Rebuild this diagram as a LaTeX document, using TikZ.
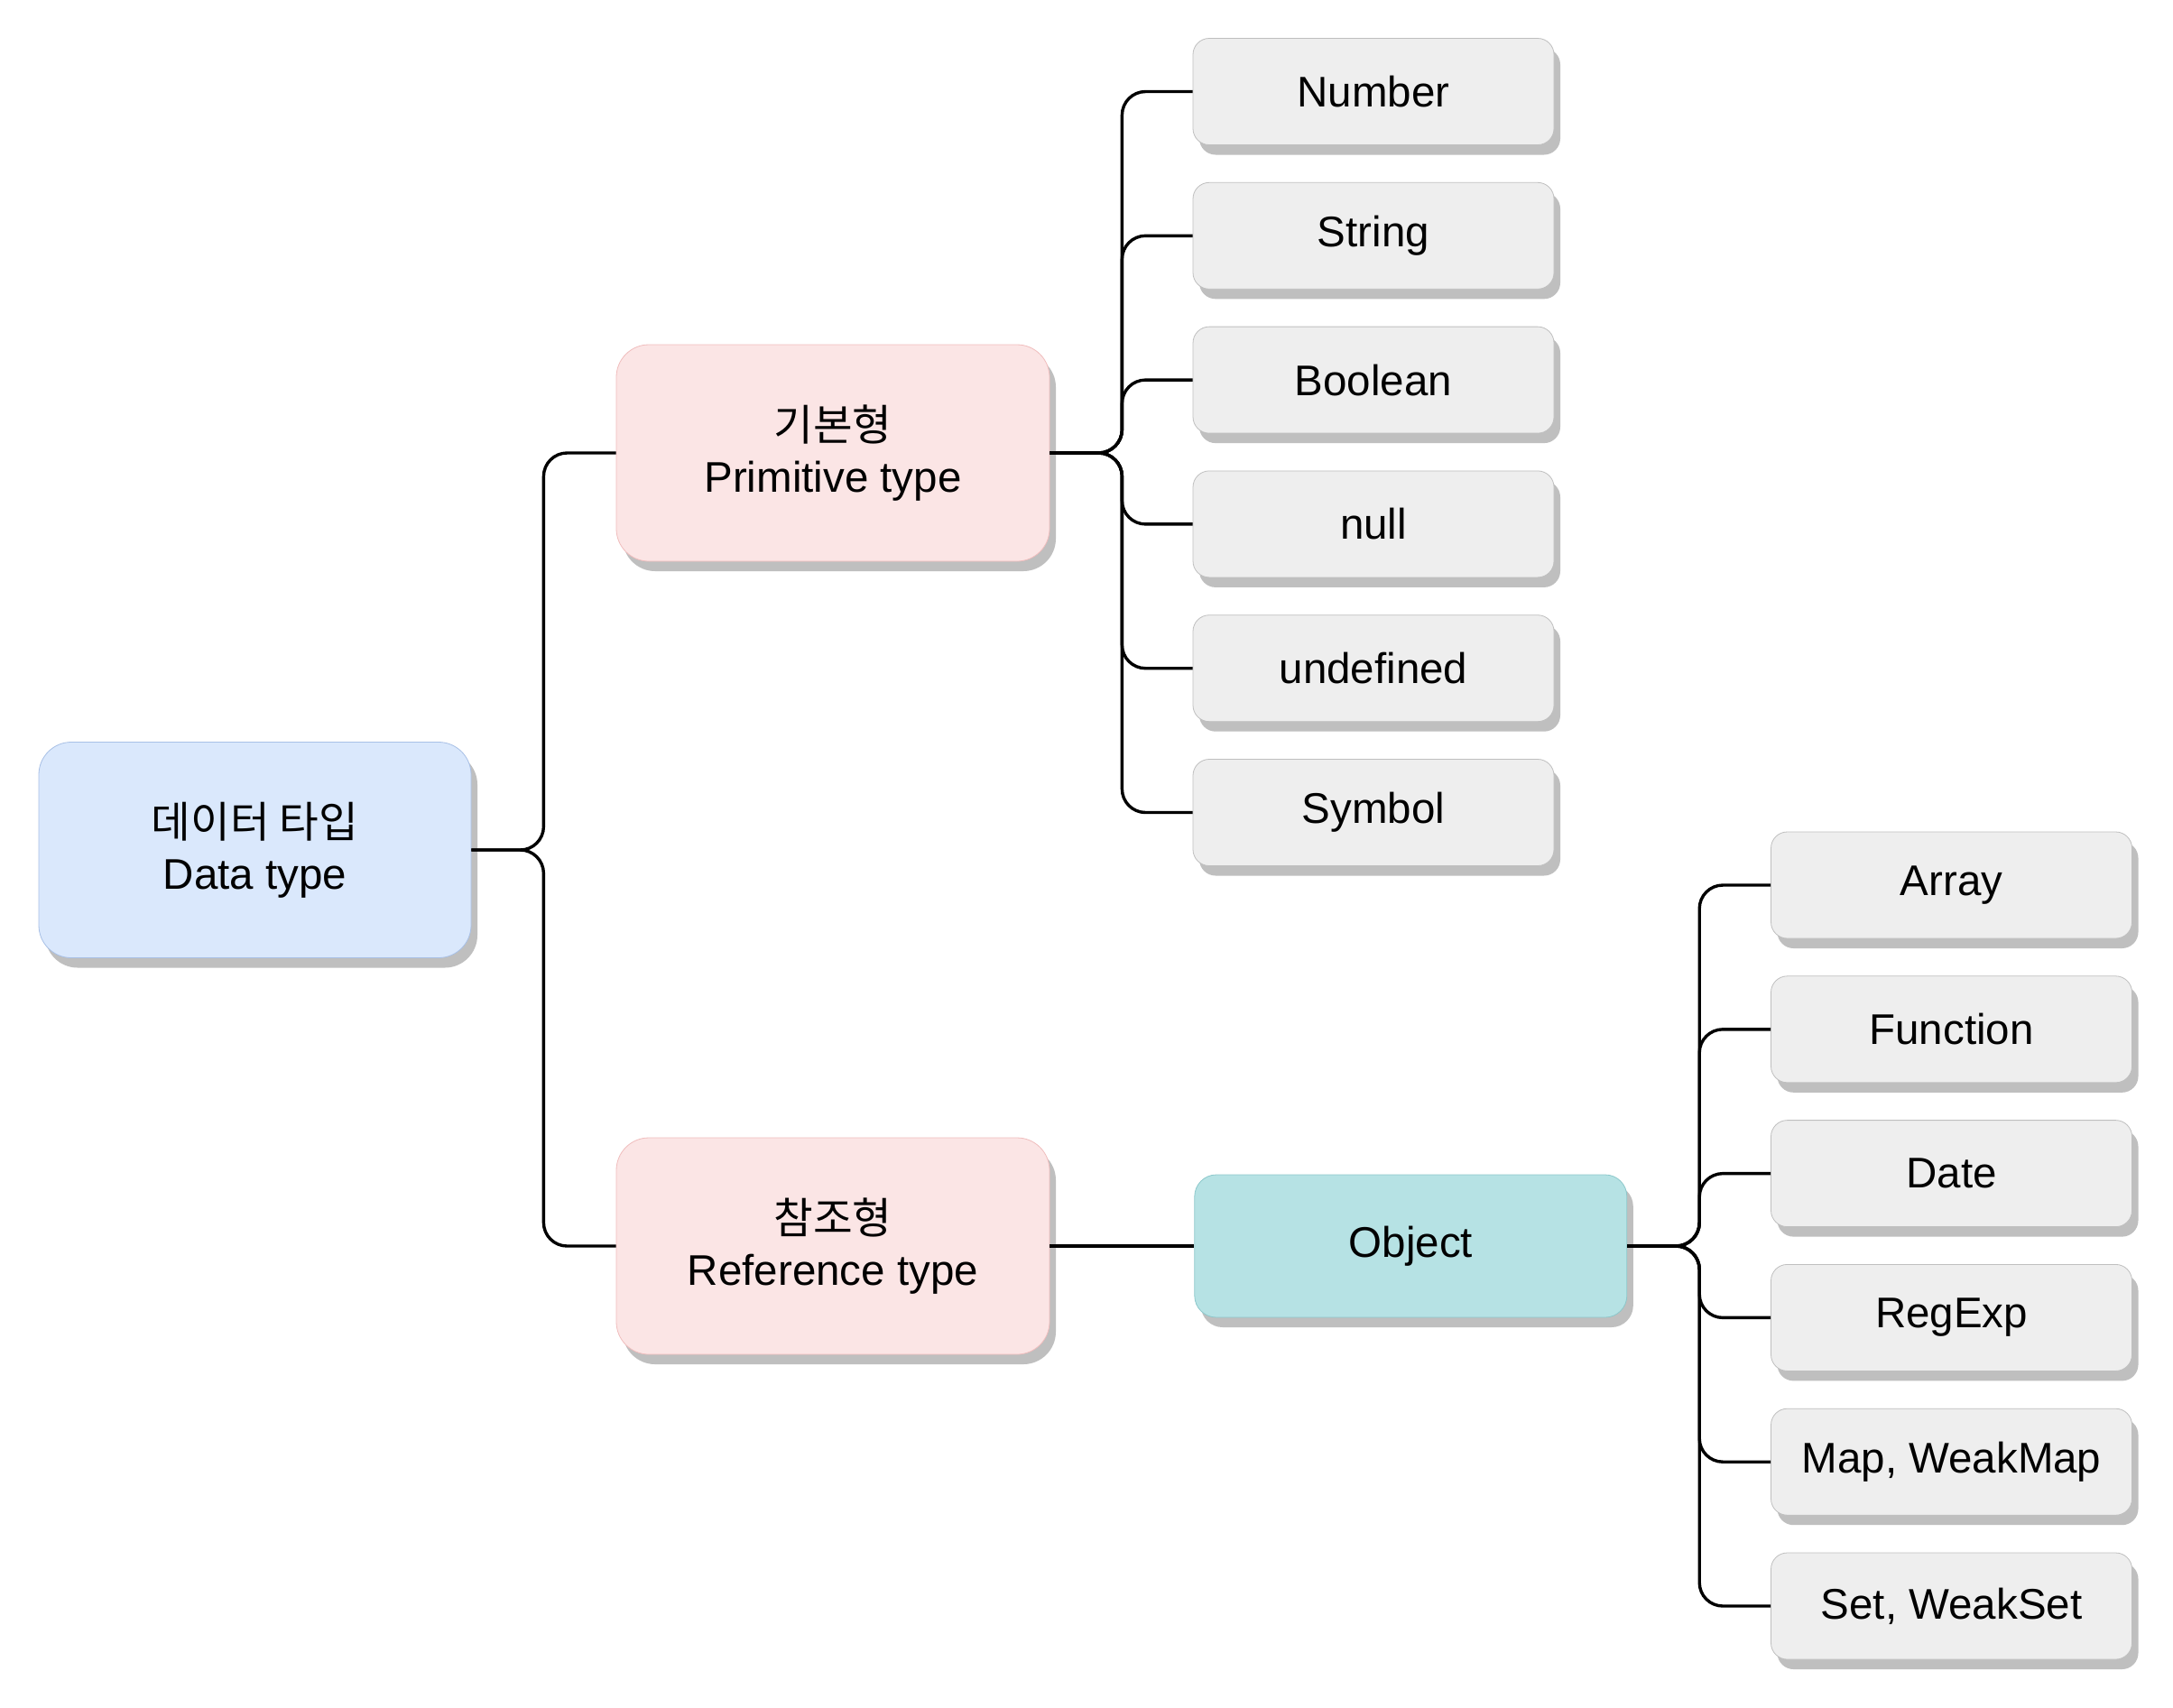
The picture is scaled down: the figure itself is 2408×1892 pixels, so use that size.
\documentclass[tikz,border=0pt]{standalone}
\usepackage{fontspec}
\setmainfont{Liberation Sans}
\newfontfamily\kofont{Noto Sans CJK KR}
\usepackage{xcolor}
\usetikzlibrary{positioning, shadows}

\definecolor{rootfill}{HTML}{DAE8FC}
\definecolor{rootline}{HTML}{A8C0E6}
\definecolor{typefill}{HTML}{FBE5E5}
\definecolor{typeline}{HTML}{F0BDBD}
\definecolor{objfill}{HTML}{B6E2E4}
\definecolor{objline}{HTML}{8CC8CB}
\definecolor{leaffill}{HTML}{EEEEEE}
\definecolor{leafline}{HTML}{BFBFBF}

\begin{document}
\begin{tikzpicture}[
  x=0.5pt, y=-0.5pt,
  node distance    = 20.5pt and 80pt,
  %--- style definitions ---
  boxshadow/.style = {drop shadow={shadow xshift=3.5pt, shadow yshift=-5.5pt,
                      fill=black!25, opacity=1}},
  rootbox/.style   = {rectangle, rounded corners=18pt, draw=rootline, fill=rootfill,
                      minimum width=239.5pt, minimum height=119.5pt, align=center,
                      boxshadow},
  typebox/.style   = {rectangle, rounded corners=18pt, draw=typeline, fill=typefill,
                      minimum width=240pt, minimum height=120pt, align=center,
                      boxshadow},
  objbox/.style    = {rectangle, rounded corners=12pt, draw=objline, fill=objfill,
                      minimum width=239.5pt, minimum height=79pt, align=center,
                      boxshadow},
  leaf/.style      = {rectangle, rounded corners=9pt, draw=leafline, fill=leaffill,
                      minimum width=200pt, minimum height=59pt, align=center,
                      boxshadow},
  link/.style      = {line width=1.7pt, rounded corners=13pt, color=black},
  every node/.style = {font=\fontsize{23.75pt}{28.5pt}\selectfont, text=black},
]

\path[use as bounding box, fill=white] (0,0) rectangle (2408,1892);

%% ── ROOT ───────────────────────────────────────────────────────────────────
\node[rootbox] (root) at (282.5,942) {{\kofont 데이터 타입}\\Data type};

%% ── TYPES ──────────────────────────────────────────────────────────────────
\node[typebox] (prim) at (923,502)  {{\kofont 기본형}\\Primitive type};
\node[typebox] (ref)  at (923,1381) {{\kofont 참조형}\\Reference type};

%% ── OBJECT ─────────────────────────────────────────────────────────────────
\node[objbox, right=80pt of ref] (obj) {Object};

%% ── PRIMITIVE VALUES ───────────────────────────────────────────────────────
\node[leaf] (num) at (1522,101.5) {Number};
\node[leaf, below=of num] (str)  {String};
\node[leaf, below=of str] (bool) {Boolean};
\node[leaf, below=of bool] (nul) {null};
\node[leaf, below=of nul] (undef) {undefined};
\node[leaf, below=of undef] (sym) {Symbol};

%% ── OBJECT KINDS ───────────────────────────────────────────────────────────
\node[leaf] (arr) at (2162.5,981) {Array};
\node[leaf, below=of arr] (func) {Function};
\node[leaf, below=of func] (date) {Date};
\node[leaf, below=of date] (rgx) {RegExp};
\node[leaf, below=of rgx] (map) {Map, WeakMap};
\node[leaf, below=of map] (set) {Set, WeakSet};

%% ── CONNECTORS ─────────────────────────────────────────────────────────────
\draw[link] (root.east) -- ++(40pt,0) |- (prim.west);
\draw[link] (root.east) -- ++(40pt,0) |- (ref.west);

% primitive -> values
\draw[link] (prim.east) -- ++(40pt,0) |- (num.west);
\draw[link] (prim.east) -- ++(40pt,0) |- (str.west);
\draw[link] (prim.east) -- ++(40pt,0) |- (bool.west);
\draw[link] (prim.east) -- ++(40pt,0) |- (nul.west);
\draw[link] (prim.east) -- ++(40pt,0) |- (undef.west);
\draw[link] (prim.east) -- ++(40pt,0) |- (sym.west);

\draw[link] (ref) -- (obj);

% object -> kinds
\draw[link] (obj.east) -- ++(40pt,0) |- (arr.west);
\draw[link] (obj.east) -- ++(40pt,0) |- (func.west);
\draw[link] (obj.east) -- ++(40pt,0) |- (date.west);
\draw[link] (obj.east) -- ++(40pt,0) |- (rgx.west);
\draw[link] (obj.east) -- ++(40pt,0) |- (map.west);
\draw[link] (obj.east) -- ++(40pt,0) |- (set.west);

\end{tikzpicture}
\end{document}
